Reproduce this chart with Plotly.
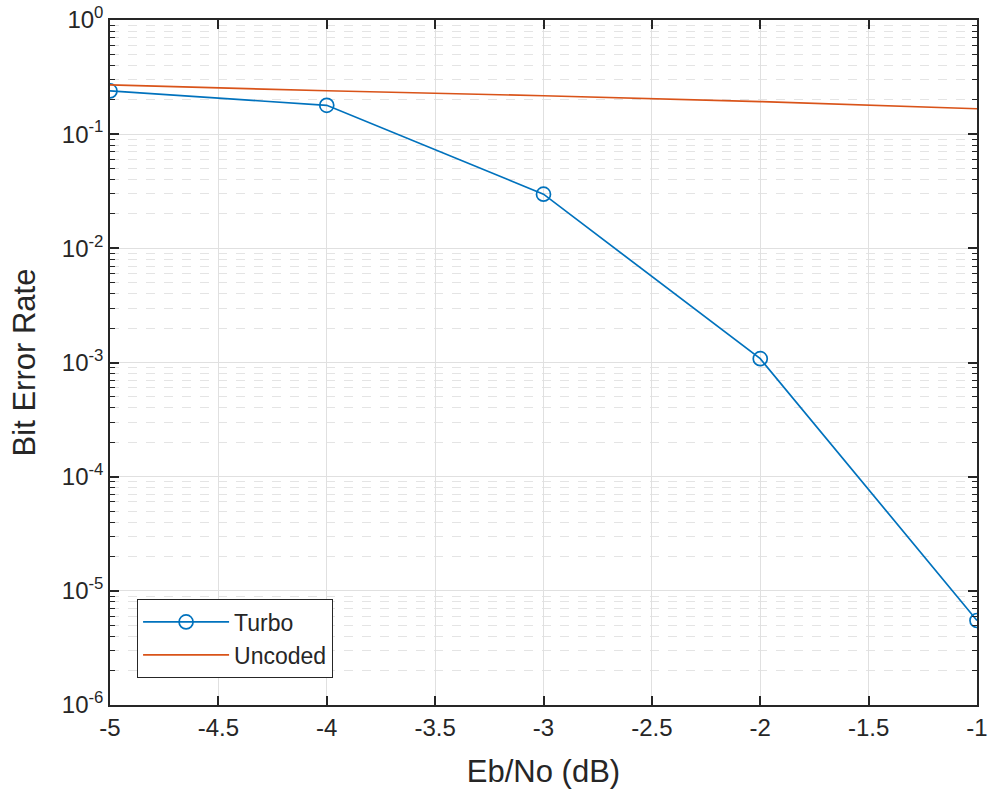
import plotly.graph_objects as go

# ---- data ----
ebno_db = [-5, -4, -3, -2, -1]
ber_turbo = [0.239, 0.179, 0.0298, 0.00108, 5.5e-6]
ber_uncoded = [0.270, 0.240, 0.217, 0.193, 0.167]

x_ticks = [-5, -4.5, -4, -3.5, -3, -2.5, -2, -1.5, -1]
x_ticktext = ["-5", "-4.5", "-4", "-3.5", "-3", "-2.5", "-2", "-1.5", "-1"]
y_tickvals = [1e-6, 1e-5, 1e-4, 1e-3, 1e-2, 1e-1, 1e0]
y_ticktext = ["10<sup>-6</sup>", "10<sup>-5</sup>", "10<sup>-4</sup>", "10<sup>-3</sup>",
              "10<sup>-2</sup>", "10<sup>-1</sup>", "10<sup>0</sup>"]
y_minor = [k * 10.0 ** e for e in range(-6, 0) for k in range(2, 10)]

BLUE = "#0072BD"
ORANGE = "#D95319"
AX = "#262626"
FONT = "Liberation Sans, Arial, Helvetica, sans-serif"

fig = go.Figure()
fig.add_trace(go.Scatter(
    x=ebno_db, y=ber_turbo, name="Turbo", mode="lines+markers",
    line=dict(color=BLUE, width=1.7),
    marker=dict(symbol="circle-open", size=14, color=BLUE, line=dict(width=1.7, color=BLUE)),
))
fig.add_trace(go.Scatter(
    x=ebno_db, y=ber_uncoded, name="Uncoded", mode="lines",
    line=dict(color=ORANGE, width=1.7),
))

fig.update_layout(
    width=989, height=796,
    margin=dict(l=110, r=12, t=20, b=91),
    paper_bgcolor="white", plot_bgcolor="white",
    font=dict(family=FONT, color=AX, size=24),
    showlegend=True,
    legend=dict(
        x=0.031, y=0.039, xanchor="left", yanchor="bottom",
        bgcolor="white", bordercolor=AX, borderwidth=1.2,
        font=dict(size=23, color=AX), itemwidth=86,
        tracegroupgap=0,
    ),
)

fig.update_xaxes(
    range=[-5, -1], tickmode="array", tickvals=x_ticks, ticktext=x_ticktext,
    automargin=False, ticklabeloverflow="allow",
    showline=True, linecolor=AX, linewidth=1.5, mirror="ticks",
    ticks="inside", ticklen=9, tickwidth=1.5, tickcolor=AX,
    showgrid=True, gridcolor="#e0e0e0", gridwidth=1,
    zeroline=False,
    tickfont=dict(size=24, color=AX),
    title=dict(text="Eb/No (dB)", font=dict(size=31, color=AX), standoff=21),
)
fig.update_yaxes(
    type="log", range=[-6, 0], tickmode="array", tickvals=y_tickvals, ticktext=y_ticktext,
    automargin=False, ticklabeloverflow="allow",
    showline=True, linecolor=AX, linewidth=1.5, mirror="ticks",
    ticks="inside", ticklen=9, tickwidth=1.5, tickcolor=AX,
    showgrid=True, gridcolor="#e0e0e0", gridwidth=1,
    zeroline=False,
    tickfont=dict(size=24, color=AX),
    title=dict(text="Bit Error Rate", font=dict(size=31, color=AX), standoff=17),
    minor=dict(tickmode="array", tickvals=y_minor, ticks="inside", ticklen=5,
               tickwidth=1.2, tickcolor=AX, showgrid=True, gridcolor="#e4e4e4",
               griddash="dash", gridwidth=1),
)

# remove the browser's default 8px body margin so the figure fills the window exactly
fig.write_html("out.html", config={"displayModeBar": False},
               post_script="document.body.style.margin='0';")
